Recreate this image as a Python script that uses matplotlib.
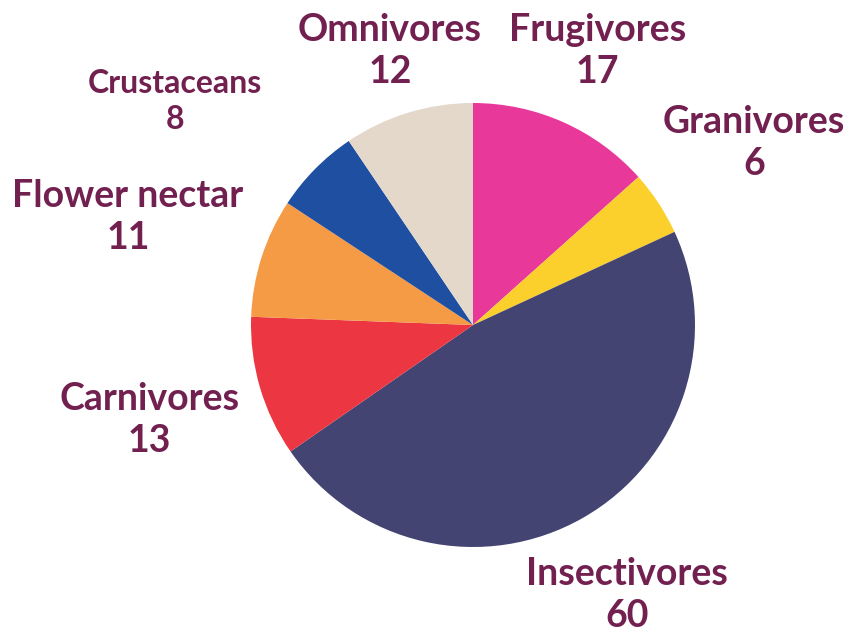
import matplotlib
matplotlib.use("Agg")
import matplotlib.pyplot as plt

# data, clockwise from 12 o'clock
labels = ["Frugivores", "Granivores", "Insectivores", "Carnivores",
          "Flower nectar", "Crustaceans", "Omnivores"]
values = [17, 6, 60, 13, 11, 8, 12]
colors = ["#E8389A", "#FBD02C", "#434472", "#EC3641",
          "#F59B46", "#1F4FA0", "#E4D8CB"]

# label placement (x, y in pie-radius units) and font size
label_pos = [(0.56, 1.234), (1.266, 0.82), (0.694, -1.215), (-1.459, -0.428),
             (-1.554, 0.486), (-1.342, 1.005), (-0.374, 1.234)]
label_size = [27, 27, 27, 27, 27, 23, 27]
TXT = "#722050"

plt.rcParams['font.family'] = ['Lato', 'DejaVu Sans']

fig = plt.figure(figsize=(8.48, 6.32), dpi=100)
ax = fig.add_axes([0, 0, 1, 1])

ax.pie(values, colors=colors, startangle=90, counterclock=False,
       radius=1.0, wedgeprops=dict(linewidth=0))

R = 222.0  # radius in pixels
cx, cy = 473.0, 325.0
ax.set_xlim(-cx / R, (848 - cx) / R)
ax.set_ylim(-(632 - cy) / R, cy / R)
ax.set_aspect('equal')
ax.axis('off')

for lab, v, (x, y), fs in zip(labels, values, label_pos, label_size):
    ax.text(x, y, lab + "\n" + str(v), ha='center', va='center',
            fontsize=fs, fontweight='bold', color=TXT, linespacing=1.3)

fig.savefig("out.png", dpi=100)
